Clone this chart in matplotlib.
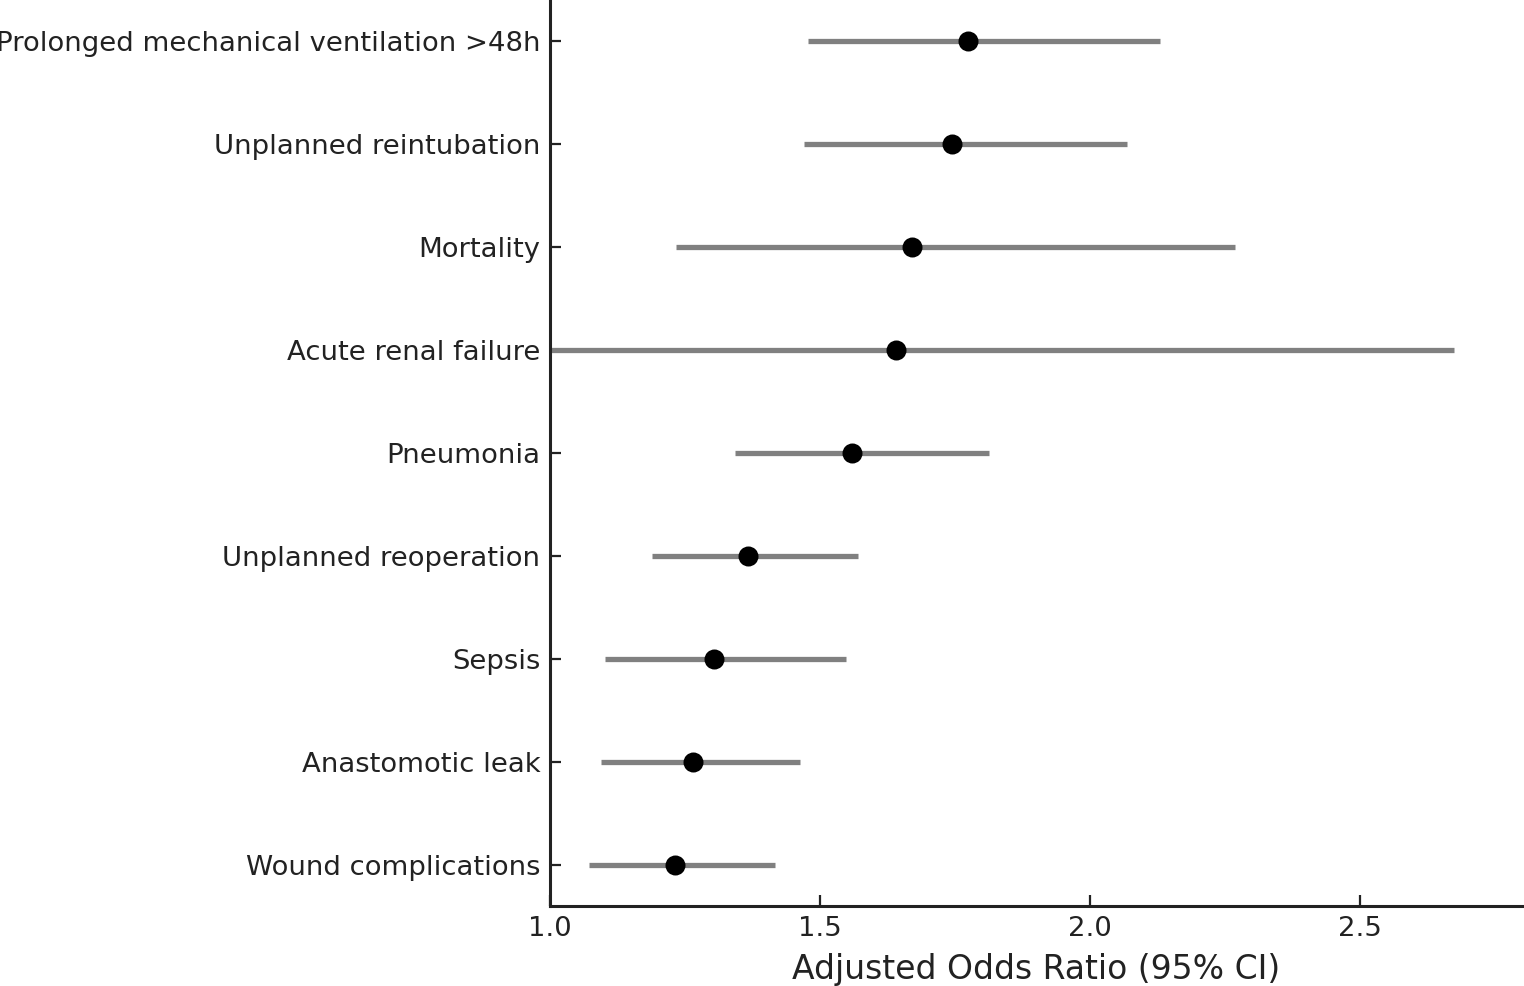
import matplotlib
matplotlib.use("Agg")
import matplotlib.pyplot as plt

outcomes = ["Wound complications", "Anastomotic leak", "Sepsis", "Unplanned reoperation",
            "Pneumonia", "Acute renal failure", "Mortality", "Unplanned reintubation",
            "Prolonged mechanical ventilation >48h"]
odds_ratio = [1.231, 1.265, 1.304, 1.367, 1.559, 1.641, 1.670, 1.744, 1.774]
ci_lower = [1.072, 1.094, 1.102, 1.189, 1.343, 1.0, 1.233, 1.470, 1.478]
ci_upper = [1.417, 1.463, 1.548, 1.570, 1.813, 2.674, 2.269, 2.069, 2.130]

fig = plt.figure(figsize=(7.62, 4.93), dpi=200)
ax = fig.add_axes([550/1524, 1-906/986, (1522-550)/1524, 906/986])

ypos = list(range(len(outcomes)))
ax.hlines(ypos, ci_lower, ci_upper, color="#808080", linewidth=1.9, zorder=2)
ax.plot(odds_ratio, ypos, "o", color="black", markersize=6.2, zorder=3)

ax.set_yticks(ypos)
ax.set_yticklabels(outcomes, fontsize=9.9, color="#222222")
ax.set_xlim(1.0, 2.8)
ax.set_ylim(-0.4, 8.4)
ax.set_xticks([1.0, 1.5, 2.0, 2.5])
ax.set_xticklabels(["1.0", "1.5", "2.0", "2.5"], fontsize=9.9, color="#222222")
ax.set_xlabel("Adjusted Odds Ratio (95% CI)", fontsize=11.9, color="#222222", labelpad=4)
for s in ["top", "right"]:
    ax.spines[s].set_visible(False)
for s in ["left", "bottom"]:
    ax.spines[s].set_linewidth(1.1)
    ax.spines[s].set_color("#222222")
ax.tick_params(direction="in", length=4, width=0.8, color="#222222")
fig.savefig("out.png", dpi=200)
